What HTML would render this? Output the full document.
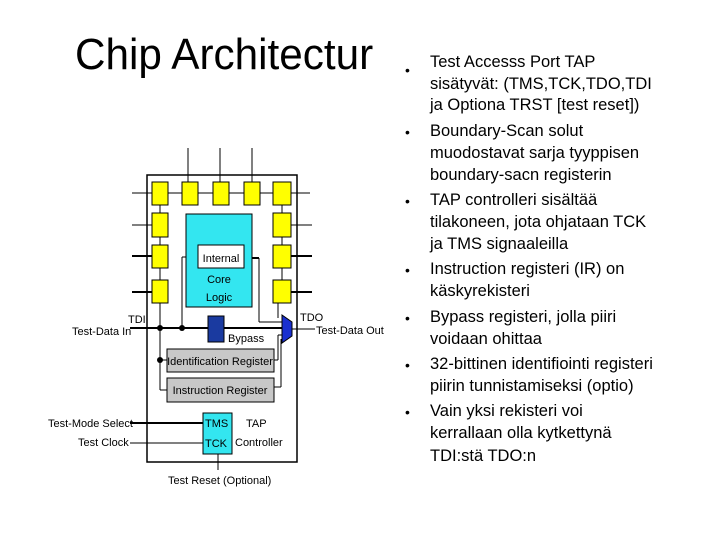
<!DOCTYPE html>
<html><head><meta charset="utf-8"><style>
body{margin:0;width:720px;height:540px;background:#fff;position:relative;overflow:hidden;font-family:"Liberation Sans",sans-serif}
.t{position:absolute;left:75px;top:30px;font-size:44px;color:#000;white-space:nowrap;transform:scaleX(0.96);transform-origin:0 0}
.l{position:absolute;left:430px;font-size:16.5px;line-height:20px;white-space:nowrap;color:#000}
.b{position:absolute;left:405px;font-size:14px;line-height:20px}
</style></head><body>
<div class="t">Chip Architectur</div>
<div class="b" style="top:60px">•</div>
<div class="b" style="top:122px">•</div>
<div class="b" style="top:191px">•</div>
<div class="b" style="top:260px">•</div>
<div class="b" style="top:308px">•</div>
<div class="b" style="top:355px">•</div>
<div class="b" style="top:402px">•</div>
<div class="l" style="top:52px">Test Accesss Port TAP</div>
<div class="l" style="top:74px">sisätyvät: (TMS,TCK,TDO,TDI</div>
<div class="l" style="top:95px">ja Optiona TRST [test reset])</div>
<div class="l" style="top:121px">Boundary-Scan solut</div>
<div class="l" style="top:143px">muodostavat sarja tyyppisen</div>
<div class="l" style="top:165px">boundary-sacn registerin</div>
<div class="l" style="top:190px">TAP controlleri sisältää</div>
<div class="l" style="top:212px">tilakoneen, jota ohjataan TCK</div>
<div class="l" style="top:234px">ja TMS signaaleilla</div>
<div class="l" style="top:259px">Instruction registeri (IR) on</div>
<div class="l" style="top:281px">käskyrekisteri</div>
<div class="l" style="top:307px">Bypass registeri, jolla piiri</div>
<div class="l" style="top:329px">voidaan ohittaa</div>
<div class="l" style="top:354px">32-bittinen identifiointi registeri</div>
<div class="l" style="top:376px">piirin tunnistamiseksi (optio)</div>
<div class="l" style="top:401px">Vain yksi rekisteri voi</div>
<div class="l" style="top:423px">kerrallaan olla kytkettynä</div>
<div class="l" style="top:446px">TDI:stä TDO:n</div>
<svg width="720" height="540" style="position:absolute;left:0;top:0" font-family="Liberation Sans,sans-serif">
<g stroke="#000" stroke-width="1" fill="none">
<rect x="147" y="175" width="150" height="287" stroke-width="1.5"/>
<line x1="188" y1="148" x2="188" y2="182"/><line x1="220" y1="148" x2="220" y2="182"/><line x1="252" y1="148" x2="252" y2="182"/>
<line x1="132" y1="193" x2="152" y2="193"/><line x1="168" y1="193" x2="182" y2="193"/><line x1="198" y1="193" x2="213" y2="193"/><line x1="229" y1="193" x2="244" y2="193"/><line x1="260" y1="193" x2="273" y2="193"/><line x1="291" y1="193" x2="310" y2="193"/>
<line x1="132" y1="225" x2="152" y2="225"/>
<line x1="132" y1="256" x2="152" y2="256" stroke-width="2"/>
<line x1="132" y1="292" x2="152" y2="292" stroke-width="2"/>
<line x1="291" y1="225" x2="312" y2="225"/>
<line x1="291" y1="256" x2="312" y2="256" stroke-width="2"/>
<line x1="291" y1="292" x2="312" y2="292" stroke-width="2"/>
<line x1="160" y1="205" x2="160" y2="213"/><line x1="160" y1="237" x2="160" y2="245"/><line x1="160" y1="268" x2="160" y2="280"/>
<line x1="282" y1="205" x2="282" y2="213"/><line x1="282" y1="237" x2="282" y2="245"/><line x1="282" y1="268" x2="282" y2="280"/>
<line x1="160" y1="303" x2="160" y2="390"/>
<line x1="130" y1="328" x2="282" y2="328" stroke-width="2"/>
<line x1="182" y1="328" x2="182" y2="257"/><line x1="182" y1="257" x2="198" y2="257"/>
<line x1="244" y1="258" x2="259" y2="258" stroke-width="2"/><line x1="259" y1="258" x2="259" y2="322"/><line x1="259" y1="322" x2="282" y2="322"/>
<line x1="278" y1="303" x2="278" y2="318"/>
<line x1="160" y1="360" x2="167" y2="360"/><line x1="160" y1="390" x2="167" y2="390"/>
<line x1="274" y1="360" x2="278" y2="360"/><line x1="278" y1="360" x2="278" y2="335"/><line x1="278" y1="335" x2="282" y2="335"/>
<line x1="274" y1="387" x2="281" y2="387"/><line x1="281" y1="387" x2="281" y2="339"/>
<line x1="292" y1="329" x2="315" y2="329"/>
<line x1="130" y1="423" x2="203" y2="423" stroke-width="2"/>
<line x1="130" y1="443" x2="203" y2="443"/>
<line x1="218" y1="454" x2="218" y2="470"/>
</g>
<g fill="#000"><circle cx="160" cy="328" r="3"/><circle cx="182" cy="328" r="3"/><circle cx="160" cy="360" r="3"/></g>
<g fill="#ffff00" stroke="#000">
<rect x="152" y="182" width="16" height="23"/><rect x="182" y="182" width="16" height="23"/><rect x="213" y="182" width="16" height="23"/><rect x="244" y="182" width="16" height="23"/><rect x="273" y="182" width="18" height="23"/>
<rect x="152" y="213" width="16" height="24"/><rect x="152" y="245" width="16" height="23"/><rect x="152" y="280" width="16" height="23"/>
<rect x="273" y="213" width="18" height="24"/><rect x="273" y="245" width="18" height="23"/><rect x="273" y="280" width="18" height="23"/>
</g>
<rect x="186" y="214" width="66" height="93" fill="#33e6f0" stroke="#000"/>
<rect x="198" y="245" width="46" height="23" fill="#fff" stroke="#000"/>
<rect x="208" y="316" width="16" height="26" fill="#1a3aa0" stroke="#000"/>
<polygon points="282,315 292,322 292,336 282,343" fill="#1a30d0" stroke="#000"/>
<rect x="167" y="349" width="107" height="23" fill="#c8c8c8" stroke="#000"/>
<rect x="167" y="378" width="107" height="24" fill="#c8c8c8" stroke="#000"/>
<rect x="203" y="413" width="29" height="41" fill="#33e6f0" stroke="#000"/>
<g font-size="11" fill="#000">
<text x="221" y="262" text-anchor="middle">Internal</text>
<text x="219" y="283" text-anchor="middle">Core</text>
<text x="219" y="301" text-anchor="middle">Logic</text>
<text x="228" y="342">Bypass</text>
<text x="220" y="365" text-anchor="middle">Identification Register</text>
<text x="220" y="394" text-anchor="middle">Instruction Register</text>
<text x="205" y="427">TMS</text><text x="205" y="447">TCK</text>
<text x="246" y="427">TAP</text><text x="235" y="446">Controller</text>
<text x="128" y="323">TDI</text><text x="72" y="335">Test-Data In</text>
<text x="300" y="321">TDO</text><text x="316" y="334">Test-Data Out</text>
<text x="48" y="427">Test-Mode Select</text><text x="78" y="446">Test Clock</text>
<text x="168" y="484">Test Reset (Optional)</text>
</g>
</svg>
</body></html>
